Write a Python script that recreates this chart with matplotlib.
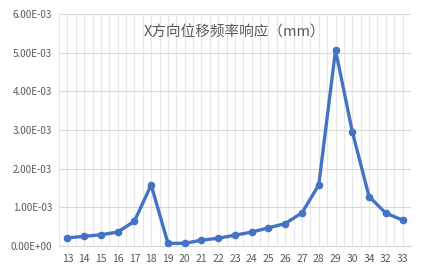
import matplotlib
matplotlib.use('Agg')
import matplotlib.pyplot as plt
import numpy as np
from matplotlib.ticker import FuncFormatter, MultipleLocator

plt.rcParams['font.family'] = ['Noto Sans CJK SC', 'DejaVu Sans']

freq_labels = ['13', '14', '15', '16', '17', '18', '19', '20', '21', '22', '23',
               '24', '25', '26', '27', '28', '29', '30', '34', '32', '33']
disp_x = [0.21e-3, 0.25e-3, 0.29e-3, 0.36e-3, 0.64e-3, 1.58e-3, 0.07e-3, 0.07e-3,
          0.15e-3, 0.20e-3, 0.28e-3, 0.36e-3, 0.47e-3, 0.58e-3, 0.86e-3, 1.58e-3,
          5.07e-3, 2.96e-3, 1.28e-3, 0.85e-3, 0.67e-3]
title = 'X方向位移频率响应（mm）'


def sci_fmt(v, pos):
    return '%.2E' % v


def main():
    fig = plt.figure(figsize=(4.23, 2.70), dpi=100)
    ax = fig.add_axes([0.1395, 0.0889, 0.832, 0.859])
    x = np.arange(len(freq_labels))

    ax.set_xlim(-0.5, len(freq_labels) - 0.5)
    ax.set_ylim(0, 6e-3)
    ax.yaxis.set_major_locator(MultipleLocator(1e-3))
    ax.yaxis.set_major_formatter(FuncFormatter(sci_fmt))
    ax.set_xticks(x)
    ax.set_xticklabels(freq_labels)

    # vertical grid at category boundaries and centres
    for v in np.arange(-0.5, len(freq_labels), 0.5):
        ax.axvline(v, color='#e6e6e6', linewidth=0.8, zorder=0)
    ax.yaxis.grid(True, color='#d9d9d9', linewidth=0.8, zorder=0)
    ax.set_axisbelow(True)

    for s in ['top', 'left', 'right']:
        ax.spines[s].set_visible(False)
    ax.spines['bottom'].set_color('#d9d9d9')
    ax.tick_params(length=0, labelsize=7, colors='#595959', pad=5)
    ax.tick_params(axis='x', labelsize=7.5, pad=6)

    ax.plot(x, disp_x, color='#4472C4', linewidth=2.4, marker='o', markersize=4.5,
            zorder=3, clip_on=False)

    ax.text(0.5, 0.92, title, transform=ax.transAxes, ha='center', va='center',
            fontsize=10.5, color='#595959')

    fig.savefig('out.png', dpi=100)


if __name__ == '__main__':
    main()
